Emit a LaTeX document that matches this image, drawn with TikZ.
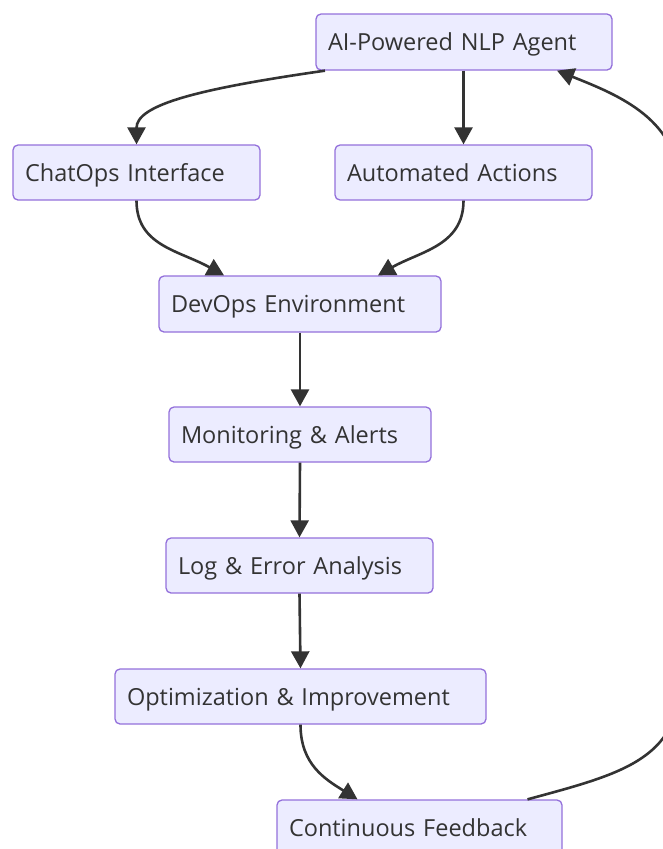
\documentclass[tikz,border=0pt]{standalone}
\usepackage{fontspec}
\setmainfont{Open Sans}
\usetikzlibrary{arrows.meta}
\definecolor{boxfill}{HTML}{ECECFF}
\definecolor{boxline}{HTML}{9370DB}
\definecolor{ink}{HTML}{333333}
\tikzset{
  flowbox/.style={draw=boxline, fill=boxfill, rounded corners=5pt, line width=1.3pt,
    minimum height=55pt, inner xsep=12pt, inner ysep=0pt, align=left,
    text height=20pt, text depth=3pt,
    text=ink, font=\fontsize{23.5}{28}\selectfont},
  flowedge/.style={draw=ink, line width=2.6pt, -{Triangle[length=17pt,width=18pt]}}
}
\begin{document}
\begin{tikzpicture}[x=1pt,y=-1pt]
\useasboundingbox (0,0) rectangle (662,849);
\node[flowbox, text width=272pt, minimum height=56pt] (agent) at (464,42) {AI-Powered NLP Agent};
\node[flowbox, text width=223pt] (chat) at (136.5,172.5) {ChatOps Interface};
\node[flowbox, text width=233pt] (auto) at (463.5,172.5) {Automated Actions};
\node[flowbox, text width=258pt, minimum height=56pt] (devops) at (300,304) {DevOps Environment};
\node[flowbox, text width=238pt] (mon) at (300,434.5) {Monitoring \& Alerts};
\node[flowbox, text width=243pt] (log) at (299.5,565.5) {Log \& Error Analysis};
\node[flowbox, text width=347pt] (opt) at (300.5,696.5) {Optimization \& Improvement};
\node[flowbox, text width=261pt] (cont) at (419.5,827.5) {Continuous Feedback};

\draw[flowedge] (auto.north |- agent.south) -- (auto.north);
\draw[flowedge] ([xshift=-139pt]agent.south) .. controls +(-125,18) and +(0,-40) .. (chat.north);
\draw[flowedge] (chat.south) .. controls +(0,45) and +(-45,-25) .. ([xshift=-76pt]devops.north);
\draw[flowedge] (auto.south) .. controls +(0,45) and +(42,-24) .. ([xshift=78pt]devops.north);
\draw[flowedge] (devops.south) -- (mon.north);
\draw[flowedge] (mon.south) -- (log.north);
\draw[flowedge] (log.south) -- (opt.north);
\draw[flowedge] (opt.south) .. controls +(0,40) and +(-32,-20) .. ([xshift=-62pt]cont.north);
\draw[flowedge] ([xshift=108pt]cont.north) .. controls +(92,-25) and (680,760) .. (680,680)
  -- (680,190) .. controls (680,120) and +(63,25) .. ([xshift=93pt]agent.south);
\end{tikzpicture}
\end{document}
